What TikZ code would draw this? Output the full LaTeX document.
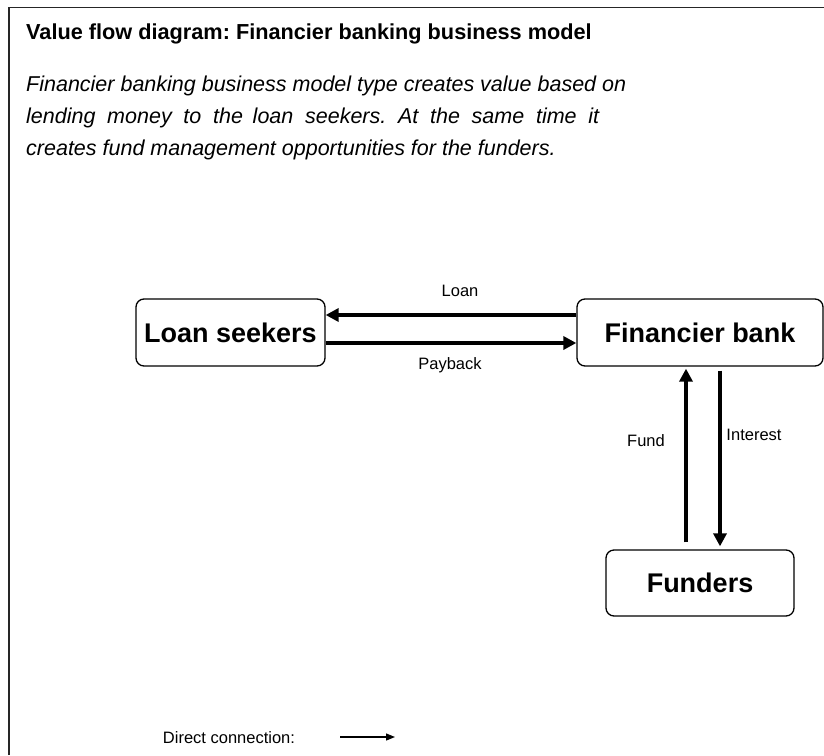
\documentclass[tikz,border=0pt]{standalone}
\usepackage{fontspec}
\setmainfont{Liberation Sans}
\usetikzlibrary{arrows.meta}
\frenchspacing
\tikzset{
  boxnode/.style={draw, line width=1.3pt, rounded corners=8pt, inner sep=0pt,
    font=\fontsize{27}{32}\selectfont\bfseries},
  flow/.style={line width=3.5pt, -{Triangle[length=13pt,width=13pt]}},
  lbl/.style={font=\fontsize{16.5}{20}\selectfont, inner sep=0pt},
  para/.style={font=\fontsize{21.5}{26}\selectfont\itshape, anchor=base west, inner sep=0pt},
}
\begin{document}
\begin{tikzpicture}[x=1pt,y=-1pt]
\useasboundingbox (0,0) rectangle (824,755);
\fill[white] (0,0) rectangle (824,755);
\draw[line width=1.5pt, black!85] (9,755) -- (9,7.5) -- (824,7.5);
\node[anchor=base west, inner sep=0pt, font=\fontsize{21.7}{26}\selectfont\bfseries] (title) at (26,39) {Value flow diagram: Financier banking business model};
\node[para] (p1) at (26,91.5) {Financier banking business model type creates value based on};
\node[para] (p2) at (26,123.5) {\makebox[573pt][s]{lending money to the\hspace{-2pt} loan seekers. At the same time it}};
\node[para] (p3) at (26,155.5) {creates fund management opportunities for the funders.};

\node[boxnode, minimum width=189pt, minimum height=67pt] (ls) at (230.5,332.5) {Loan seekers};
\node[boxnode, minimum width=246pt, minimum height=67pt] (fb) at (700,332.5) {Financier bank};
\node[boxnode, minimum width=188pt, minimum height=66pt] (fd) at (700,583) {Funders};

\coordinate (yl) at (0,315);
\coordinate (yp) at (0,343);
\coordinate (xf) at (686,0);
\coordinate (xi) at (720,0);
\draw[flow] (fb.west |- yl) -- (ls.east |- yl);
\draw[flow] (ls.east |- yp) -- (fb.west |- yp);
\draw[flow, shorten <=7pt, shorten >=2pt] (fd.north -| xf) -- (fb.south -| xf);
\draw[flow, shorten <=4pt, shorten >=3pt] (fb.south -| xi) -- (fd.north -| xi);

\node[lbl] (lloan) at (460,291) {Loan};
\node[lbl] (lpay) at (450,365) {Payback};
\node[lbl] (lfund) at (646,441) {Fund};
\node[lbl] (lint) at (754,435) {Interest};

\node[lbl] (legend) at (229,738) {Direct connection:};
\coordinate (la) at (340,737);
\coordinate (lb) at (395,737);
\draw[line width=1.3pt, -{Triangle[length=9pt,width=7pt]}] (la) -- (lb);
\end{tikzpicture}
\end{document}
